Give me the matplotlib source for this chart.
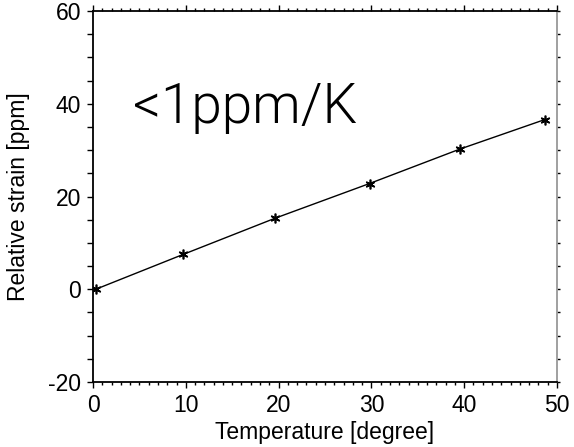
import matplotlib
matplotlib.use("Agg")
import matplotlib.pyplot as plt
from matplotlib.ticker import MultipleLocator

temperature = [0.3, 9.7, 19.6, 29.8, 39.5, 48.7]
strain = [0.0, 7.5, 15.3, 22.8, 30.2, 36.6]
annotation = "<1ppm/K"

plt.rcParams['font.family'] = ['Liberation Sans', 'DejaVu Sans']
plt.rcParams['axes.unicode_minus'] = False

fig = plt.figure(figsize=(5.74, 4.47), dpi=100)
ax = fig.add_axes([93/574, 1-382/447, (557-93)/574, (382-11)/447])

ax.plot(temperature, strain, color='black', lw=1.0, marker=(6, 2, 0),
        ms=7, mew=1.2, mec='black', zorder=3)

ax.set_xlim(0, 50)
ax.set_ylim(-20, 60)
ax.xaxis.set_major_locator(MultipleLocator(10))
ax.xaxis.set_minor_locator(MultipleLocator(1))
ax.yaxis.set_major_locator(MultipleLocator(20))
ax.yaxis.set_minor_locator(MultipleLocator(5))

ax.tick_params(axis='both', which='both', direction='out', labelsize=16.5,
               top=True, right=True, width=1.0)
ax.tick_params(axis='y', which='major', length=4.5, pad=4)
ax.tick_params(axis='y', which='minor', length=4.5)
ax.tick_params(axis='x', which='major', length=4, pad=5)
ax.tick_params(axis='x', which='minor', length=2.5)

for s in ['left', 'bottom', 'top']:
    ax.spines[s].set_linewidth(1.3)
    ax.spines[s].set_color('black')
ax.spines['right'].set_color('#999999')
ax.spines['right'].set_linewidth(1.3)
# right ticks short and gray
for line in ax.yaxis.get_majorticklines()[1::2] + ax.yaxis.get_minorticklines()[1::2]:
    line.set_color('#999999')
    line.set_markersize(2.5)

ax.set_xlabel('Temperature [degree]', fontsize=16.5, labelpad=2.5)
ax.set_ylabel('Relative strain [ppm]', fontsize=16.5)
ax.yaxis.set_label_coords(-0.136, 0.5)

ax.text(4.3, 35.8, annotation, fontsize=39.5, family=['Roboto', 'DejaVu Sans'],
        fontweight=300, ha='left', va='baseline', color='black')

fig.savefig('out.png', dpi=100)
